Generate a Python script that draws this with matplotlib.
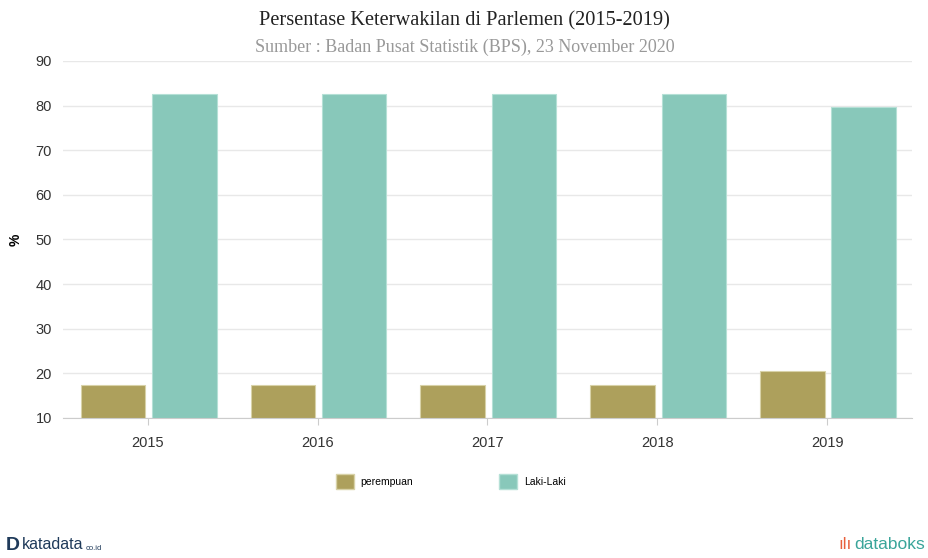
import matplotlib
matplotlib.use("Agg")
import matplotlib.pyplot as plt
import numpy as np
from matplotlib.patches import Patch

years = ["2015", "2016", "2017", "2018", "2019"]
perempuan = [17.4, 17.4, 17.4, 17.4, 20.6]
laki_laki = [82.7, 82.7, 82.7, 82.7, 79.7]

c_per = "#ada05c"
c_laki = "#88c8ba"

plt.rcParams["font.family"] = ["Liberation Sans", "DejaVu Sans"]

fig = plt.figure(figsize=(9.29, 5.58), dpi=100)
ax = fig.add_axes([0.0678, 0.2509, 0.9139, 0.6398])

x = np.arange(len(years))
w = 0.38
ax.bar(x - 0.205, perempuan, w, bottom=0, color=c_per, edgecolor="#d8d2a8", linewidth=0.8, zorder=2)
ax.bar(x + 0.215, laki_laki, w, bottom=0, color=c_laki, edgecolor="#b5e0d6", linewidth=0.8, zorder=2)

ax.set_xlim(-0.5, len(years) - 0.5)
ax.set_ylim(10, 90)
ax.set_yticks(range(10, 91, 10))
ax.set_xticks(x)
ax.set_xticklabels(years)
ax.grid(axis="y", color="#e8e8e8", linewidth=1, zorder=0)
for s in ["top", "right", "left"]:
    ax.spines[s].set_visible(False)
ax.spines["bottom"].set_color("#cccccc")
ax.tick_params(axis="y", length=0, labelsize=10.5, pad=8, colors="#333333")
ax.tick_params(axis="x", length=5, color="#cccccc", labelsize=10.5, pad=8, colors="#333333")
ax.set_ylabel("%", fontsize=10, fontweight="bold")
ax.yaxis.set_label_coords(-0.047, 0.5)

fig.text(0.5, 0.963, "Persentase Keterwakilan di Parlemen (2015-2019)",
         ha="center", va="center", fontsize=14.7, family="Liberation Serif", color="#222222")
fig.text(0.5, 0.916, "Sumber : Badan Pusat Statistik (BPS), 23 November 2020",
         ha="center", va="center", fontsize=13, family="Liberation Serif", color="#999999")

handles = [Patch(facecolor=c_per, edgecolor="#d8d2a8"), Patch(facecolor=c_laki, edgecolor="#b5e0d6")]
fig.legend(handles, ["perempuan", "Laki-Laki"], loc="center", bbox_to_anchor=(0.485, 0.137),
           ncol=2, frameon=False, fontsize=7.5, handlelength=1.8, handleheight=1.8,
           columnspacing=8.2, handletextpad=0.6)

# logos as text
fig.text(0.006, 0.008, "D", fontsize=14, fontweight="bold", color="#1f3a5a", va="bottom")
fig.text(0.024, 0.010, "katadata", fontsize=11.5, color="#1f3a5a", va="bottom")
fig.text(0.092, 0.011, "co.id", fontsize=5.5, color="#1f3a5a", va="bottom")
fig.text(0.902, 0.010, "ılı", fontsize=12, color="#e8603c", va="bottom")
fig.text(0.920, 0.010, "databoks", fontsize=12.5, color="#3aa59a", va="bottom")

fig.savefig("out.png", dpi=100)
